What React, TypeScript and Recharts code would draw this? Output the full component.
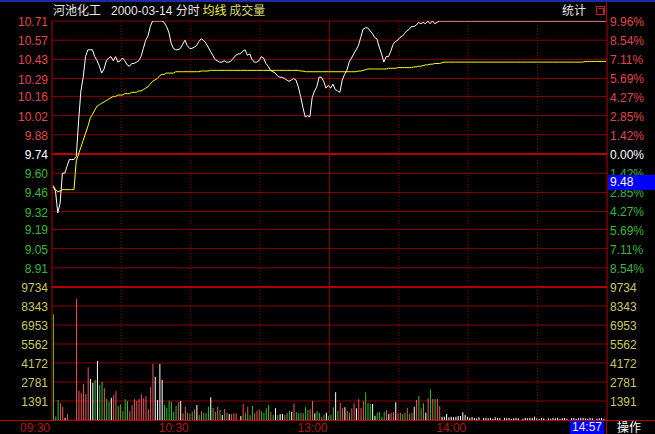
import React from "react";
import {
  ComposedChart,
  Line,
  Bar,
  Cell,
  XAxis,
  YAxis,
  CartesianGrid,
  ReferenceLine,
} from "recharts";

const STOCK_NAME = "河池化工";
const TRADE_DATE = "2000-03-14";
const PREV_CLOSE = 9.74;
const CURSOR_PRICE = "9.48";
const CURSOR_TIME = "14:57";

const PRICE_TICKS = [10.71, 10.57, 10.43, 10.29, 10.16, 10.02, 9.88, 9.74, 9.6, 9.46, 9.32, 9.19, 9.05, 8.91];
const PCT_TICKS = [9.96, 8.54, 7.11, 5.69, 4.27, 2.85, 1.42, 0, -1.42, -2.85, -4.27, -5.69, -7.11, -8.54];
const VOLUME_TICKS = [9734, 8343, 6953, 5562, 4172, 2781, 1391];
const TIME_TICKS = [-0.5, 59.5, 119.5, 179.5];
const TIME_LABELS = ["09:30", "10:30", "13:00", "14:00"];
const HALF_HOURS = [29.5, 59.5, 89.5, 149.5, 179.5, 209.5];
const MIDDAY = 119.5;

// one value per trading minute, 09:30-11:30 then 13:00-15:00
const PRICE = [
  9.5, 9.47, 9.31, 9.38, 9.6, 9.6, 9.65, 9.7, 9.7, 9.7,
  9.72, 9.98, 10.2, 10.3, 10.45, 10.5, 10.5, 10.5, 10.45, 10.42,
  10.38, 10.33, 10.36, 10.42, 10.44, 10.45, 10.42, 10.45, 10.41, 10.42,
  10.44, 10.42, 10.39, 10.38, 10.4, 10.4, 10.41, 10.42, 10.45, 10.51,
  10.57, 10.6, 10.67, 10.71, 10.71, 10.71, 10.71, 10.71, 10.7, 10.67,
  10.63, 10.55, 10.51, 10.5, 10.5, 10.51, 10.54, 10.57, 10.53, 10.51,
  10.51, 10.52, 10.53, 10.56, 10.58, 10.57, 10.55, 10.52, 10.49, 10.46,
  10.43, 10.42, 10.41, 10.41, 10.42, 10.41, 10.41, 10.42, 10.44, 10.46,
  10.47, 10.47, 10.49, 10.5, 10.46, 10.47, 10.43, 10.41, 10.41, 10.42,
  10.45, 10.44, 10.4, 10.38, 10.35, 10.34, 10.33, 10.31, 10.3, 10.3,
  10.29, 10.28, 10.27, 10.28, 10.29, 10.28, 10.23, 10.16, 10.08, 10.01,
  10.02, 10.01, 10.15, 10.2, 10.23, 10.3, 10.3, 10.27, 10.22, 10.24,
  10.22, 10.25, 10.21, 10.2, 10.19, 10.28, 10.32, 10.35, 10.41, 10.44,
  10.47, 10.5, 10.53, 10.59, 10.65, 10.66, 10.66, 10.64, 10.62, 10.59,
  10.58, 10.52, 10.47, 10.41, 10.45, 10.45, 10.49, 10.54, 10.56, 10.57,
  10.59, 10.6, 10.62, 10.64, 10.65, 10.67, 10.67, 10.68, 10.7, 10.69,
  10.7, 10.69, 10.71, 10.69, 10.71, 10.69, 10.7, 10.71, 10.71, 10.71,
  10.71, 10.71, 10.71, 10.71, 10.71, 10.71, 10.71, 10.71, 10.71, 10.71,
  10.71, 10.71, 10.71, 10.71, 10.71, 10.71, 10.71, 10.71, 10.71, 10.71,
  10.71, 10.71, 10.71, 10.71, 10.71, 10.71, 10.71, 10.71, 10.71, 10.71,
  10.71, 10.71, 10.71, 10.71, 10.71, 10.71, 10.71, 10.71, 10.71, 10.71,
  10.71, 10.71, 10.71, 10.71, 10.71, 10.71, 10.71, 10.71, 10.71, 10.71,
  10.71, 10.71, 10.71, 10.71, 10.71, 10.71, 10.71, 10.71, 10.71, 10.71,
  10.71, 10.71, 10.71, 10.71, 10.71, 10.71, 10.71, 10.71, 10.71, 10.71,
];

const AVG_PRICE = [
  9.51, 9.48, 9.465, 9.47, 9.48, 9.48, 9.48, 9.48, 9.48, 9.48,
  9.69, 9.74, 9.79, 9.84, 9.89, 9.94, 10.0, 10.03, 10.06, 10.09,
  10.1, 10.11, 10.12, 10.13, 10.14, 10.15, 10.16, 10.16, 10.17, 10.17,
  10.17, 10.18, 10.18, 10.18, 10.19, 10.19, 10.19, 10.2, 10.2, 10.21,
  10.22, 10.23, 10.25, 10.27, 10.28, 10.29, 10.31, 10.32, 10.32, 10.33,
  10.33, 10.33, 10.33, 10.34, 10.34, 10.34, 10.34, 10.34, 10.34, 10.34,
  10.34, 10.34, 10.34, 10.34, 10.345, 10.345, 10.345, 10.345, 10.35, 10.35,
  10.35, 10.35, 10.35, 10.35, 10.35, 10.35, 10.35, 10.35, 10.35, 10.35,
  10.35, 10.35, 10.35, 10.35, 10.35, 10.35, 10.35, 10.35, 10.35, 10.35,
  10.35, 10.35, 10.35, 10.35, 10.35, 10.35, 10.35, 10.35, 10.35, 10.35,
  10.35, 10.35, 10.35, 10.35, 10.35, 10.35, 10.35, 10.345, 10.345, 10.34,
  10.34, 10.34, 10.34, 10.34, 10.34, 10.34, 10.34, 10.34, 10.34, 10.34,
  10.34, 10.34, 10.34, 10.34, 10.34, 10.34, 10.34, 10.34, 10.34, 10.34,
  10.34, 10.34, 10.345, 10.345, 10.35, 10.355, 10.36, 10.36, 10.36, 10.36,
  10.36, 10.36, 10.36, 10.36, 10.36, 10.365, 10.365, 10.365, 10.365, 10.37,
  10.37, 10.37, 10.37, 10.37, 10.37, 10.37, 10.375, 10.375, 10.38, 10.38,
  10.385, 10.39, 10.39, 10.395, 10.395, 10.4, 10.4, 10.4, 10.405, 10.41,
  10.41, 10.41, 10.41, 10.41, 10.41, 10.41, 10.41, 10.41, 10.41, 10.41,
  10.41, 10.41, 10.41, 10.41, 10.41, 10.41, 10.41, 10.41, 10.41, 10.41,
  10.41, 10.41, 10.41, 10.41, 10.41, 10.41, 10.41, 10.41, 10.41, 10.41,
  10.41, 10.41, 10.41, 10.41, 10.41, 10.41, 10.41, 10.41, 10.41, 10.41,
  10.41, 10.41, 10.41, 10.41, 10.41, 10.41, 10.41, 10.41, 10.41, 10.41,
  10.41, 10.41, 10.41, 10.41, 10.41, 10.41, 10.41, 10.41, 10.41, 10.41,
  10.415, 10.415, 10.415, 10.415, 10.415, 10.415, 10.415, 10.415, 10.415, 10.415,
];

const VOLUME = [
  7737, 244, 1464, 1220, 976, 170, 440, 0, 0, 0,
  8857, 2147, 1952, 2635, 1903, 3855, 3001, 2733, 2928, 4319,
  2562, 2806, 2318, 1537, 1342, 1635, 1830, 2123, 1025, 1147,
  659, 1513, 1391, 659, 1098, 1513, 1415, 1537, 1879, 1586,
  1757, 781, 2391, 4099, 3172, 1464, 4099, 2928, 1098, 903,
  1415, 1342, 610, 1025, 1293, 1391, 488, 976, 537, 439,
  610, 781, 1098, 366, 634, 537, 488, 976, 1659, 903,
  610, 976, 732, 366, 805, 537, 439, 415, 488, 488,
  0, 293, 1171, 537, 976, 342, 1025, 488, 659, 781,
  634, 537, 854, 1098, 610, 366, 854, 366, 439, 439,
  366, 488, 659, 610, 1220, 586, 488, 512, 488, 927,
  732, 781, 1391, 488, 659, 537, 244, 390, 537, 293,
  390, 927, 2025, 683, 1244, 854, 927, 659, 537, 854,
  1220, 854, 1513, 878, 1366, 2025, 1220, 1171, 1171, 317,
  537, 610, 244, 610, 708, 439, 537, 586, 1293, 537,
  537, 439, 537, 903, 439, 537, 976, 1464, 1757, 854,
  1220, 537, 1586, 2245, 1537, 1537, 1537, 1025, 244, 244,
  439, 195, 244, 195, 244, 293, 293, 561, 366, 244,
  170, 195, 146, 122, 195, 0, 146, 170, 122, 146,
  98, 195, 122, 146, 0, 170, 122, 146, 98, 122,
  146, 122, 0, 98, 146, 122, 170, 146, 244, 122,
  98, 146, 122, 0, 122, 98, 146, 122, 170, 98,
  122, 146, 98, 0, 122, 146, 98, 122, 170, 146,
  122, 98, 146, 122, 0, 98, 122, 146, 98, 0,
];

// u = up tick, d = down tick, e = unchanged; ten minutes per group
const VOLUME_SIDE = [
  "ddduueueee", "uuuuuueede", "ddudde" + "uudd", "udduuuuuuu",
  "uuuueeeedd", "ddddueuudu", "dueduddded", "uudeudeuuu",
  "eeududduuu", "ddddudedee", "dudeudddu" + "d", "duuedduded",
  "ddeduueudu", "ueuuudddee", "ddddueuueu", "uddudueudu",
  "deududuuee", "eeeeeeeeee", "eeeeeeeeee", "eeeeeeeeee",
  "eeeeeeeeee", "eeeeeeeeee", "eeeeeeeeee", "eeeeeeeeee",
].join("");

const GRID = "#8c0000";
const GRID_STRONG = "#b40000";
const RED_TEXT = "#e04848";
const GREEN_TEXT = "#38b838";
const VOL_TEXT = "#c8c860";
const SIDE_COLOR: Record<string, string> = { u: "#f05656", d: "#30c030", e: "#ffffff" };

const rows = PRICE.map((p, i) => ({
  m: i,
  price: p,
  avg: AVG_PRICE[i],
  vol: VOLUME[i],
  side: VOLUME_SIDE[i],
}));

function PriceTick({ x, y, payload }: any) {
  const v = payload.value;
  const fill = v > PREV_CLOSE + 0.001 ? RED_TEXT : v < PREV_CLOSE - 0.001 ? GREEN_TEXT : "#ffffff";
  return (
    <text x={x} y={y} dy={5} textAnchor="end" fill={fill} fontSize={12}>
      {v.toFixed(2)}
    </text>
  );
}

function PctTick({ x, y, payload }: any) {
  const v = payload.value;
  const fill = v > 0 ? RED_TEXT : v < 0 ? GREEN_TEXT : "#ffffff";
  return (
    <text x={x} y={y} dy={5} textAnchor="start" fill={fill} fontSize={12}>
      {Math.abs(v).toFixed(2) + "%"}
    </text>
  );
}

function VolTick({ x, y, payload, textAnchor }: any) {
  return (
    <text x={x} y={y} dy={5} textAnchor={textAnchor} fill={VOL_TEXT} fontSize={12}>
      {payload.value}
    </text>
  );
}

function TimeTick({ x, y, payload, index }: any) {
  return (
    <text x={x - 2} y={y} dy={12} textAnchor="end" fill="#b01818" fontSize={12}>
      {TIME_LABELS[index] ?? payload.value}
    </text>
  );
}

function VerticalMarks({ axis }: { axis: string }) {
  return (
    <>
      {HALF_HOURS.map((h) => (
        <ReferenceLine key={h} x={h} yAxisId={axis} stroke={GRID} strokeDasharray="1 2" />
      ))}
      <ReferenceLine x={MIDDAY} yAxisId={axis} stroke={GRID} />
      <ReferenceLine x={-0.5} yAxisId={axis} stroke={GRID_STRONG} />
      <ReferenceLine x={239.5} yAxisId={axis} stroke={GRID_STRONG} />
    </>
  );
}

export default function App() {
  return (
    <div
      style={{
        position: "fixed",
        left: 0,
        top: 0,
        width: 655,
        height: 434,
        background: "#000",
        overflow: "hidden",
        fontFamily: '"Liberation Sans", Arial, "Noto Sans CJK SC", sans-serif',
      }}
    >
      {/* header */}
      <div style={{ position: "absolute", left: 0, top: 0, width: 655, height: 2, background: "#1c2ca8" }} />
      <div style={{ position: "absolute", left: 606, top: 2, width: 1, height: 20, background: GRID_STRONG }} />
      <div
        style={{
          position: "absolute",
          left: 53,
          top: 3,
          fontSize: 12,
          lineHeight: "14px",
          whiteSpace: "pre",
          color: "#e6e6e6",
          fontFamily: '"Noto Sans CJK SC", sans-serif',
        }}
      >
        <span>{STOCK_NAME}</span>
        <span style={{ fontFamily: '"Liberation Sans", Arial, sans-serif' }}>{"   " + TRADE_DATE + " "}</span>
        <span>分时 </span>
        <span style={{ color: "#f0f040" }}>均线 </span>
        <span style={{ color: "#d4d470" }}>成交量</span>
      </div>
      <div
        style={{
          position: "absolute",
          left: 562,
          top: 3,
          fontSize: 12,
          lineHeight: "14px",
          color: "#e6e6e6",
          fontFamily: '"Noto Sans CJK SC", sans-serif',
        }}
      >
        统计
      </div>
      <div style={{ position: "absolute", left: 596, top: 6, width: 7, height: 7, border: "1px solid #c02020" }} />
      <div style={{ position: "absolute", left: 598, top: 8, width: 5, height: 5, borderTop: "1px solid #c02020", borderRight: "1px solid #c02020" }} />

      {/* price panel */}
      <div style={{ position: "absolute", left: 0, top: 0 }}>
        <ComposedChart width={655} height={287} data={rows} margin={{ top: 21, right: 0, bottom: 0, left: 0 }}>
          <XAxis type="number" dataKey="m" domain={[-0.5, 239.5]} hide />
          <YAxis
            yAxisId="p"
            width={52}
            domain={[8.77, 10.71]}
            allowDataOverflow
            ticks={PRICE_TICKS}
            interval={0}
            tick={<PriceTick />}
            tickSize={0}
            tickMargin={4}
            axisLine={false}
            tickLine={false}
          />
          <YAxis
            yAxisId="pct"
            orientation="right"
            width={48}
            domain={[-9.96, 9.96]}
            allowDataOverflow
            ticks={PCT_TICKS}
            interval={0}
            tick={<PctTick />}
            tickSize={0}
            tickMargin={3}
            axisLine={false}
            tickLine={false}
          />
          <CartesianGrid yAxisId="p" vertical={false} stroke={GRID} />
          <ReferenceLine y={PREV_CLOSE} yAxisId="p" stroke={GRID_STRONG} strokeWidth={2} />
          {VerticalMarks({ axis: "p" })}
          <Line
            yAxisId="p"
            dataKey="avg"
            stroke="#ffff00"
            strokeWidth={1}
            dot={false}
            type="linear"
            isAnimationActive={false}
          />
          <Line
            yAxisId="p"
            dataKey="price"
            stroke="#ffffff"
            strokeWidth={1}
            dot={false}
            type="linear"
            isAnimationActive={false}
          />
        </ComposedChart>
      </div>

      {/* volume panel */}
      <div style={{ position: "absolute", left: 0, top: 275 }}>
        <ComposedChart width={655} height={159} data={rows} margin={{ top: 12, right: 0, bottom: 0, left: 0 }}>
          <XAxis
            type="number"
            dataKey="m"
            domain={[-0.5, 239.5]}
            ticks={TIME_TICKS}
            interval={0}
            height={14}
            tick={<TimeTick />}
            tickSize={0}
            tickMargin={0}
            tickLine={false}
            axisLine={false}
          />
          <YAxis
            yAxisId="v"
            width={52}
            domain={[0, 9734]}
            allowDataOverflow
            ticks={VOLUME_TICKS}
            interval={0}
            tick={<VolTick />}
            tickSize={0}
            tickMargin={4}
            axisLine={false}
            tickLine={false}
          />
          <YAxis
            yAxisId="v2"
            orientation="right"
            width={48}
            domain={[0, 9734]}
            allowDataOverflow
            ticks={VOLUME_TICKS}
            interval={0}
            tick={<VolTick />}
            tickSize={0}
            tickMargin={3}
            axisLine={false}
            tickLine={false}
          />
          <CartesianGrid yAxisId="v" vertical={false} stroke={GRID} />
          <ReferenceLine y={9734} yAxisId="v" stroke={GRID_STRONG} strokeWidth={2} />
          {VerticalMarks({ axis: "v" })}
          <Bar yAxisId="v" dataKey="vol" barSize={1} isAnimationActive={false}>
            {rows.map((r) => (
              <Cell key={r.m} fill={SIDE_COLOR[r.side] || "#ffffff"} />
            ))}
          </Bar>
        </ComposedChart>
      </div>

      {/* bottom rule, cursor boxes */}
      <div style={{ position: "absolute", left: 0, top: 420, width: 655, height: 1, background: GRID_STRONG }} />
      <div style={{ position: "absolute", left: 606, top: 420, width: 1, height: 14, background: GRID_STRONG }} />
      <div
        style={{
          position: "absolute",
          left: 608,
          top: 175,
          width: 47,
          height: 15,
          background: "#0000ff",
          color: "#fff",
          fontSize: 12,
          lineHeight: "15px",
          paddingLeft: 2,
        }}
      >
        {CURSOR_PRICE}
      </div>
      <div
        style={{
          position: "absolute",
          left: 570,
          top: 421,
          width: 34,
          height: 13,
          background: "#0000ff",
          color: "#e8e8ff",
          fontSize: 12,
          lineHeight: "13px",
          textAlign: "center",
        }}
      >
        {CURSOR_TIME}
      </div>
      <div
        style={{
          position: "absolute",
          left: 617,
          top: 420,
          color: "#fff",
          fontSize: 12,
          lineHeight: "13px",
          fontFamily: '"Noto Sans CJK SC", sans-serif',
        }}
      >
        操作
      </div>
    </div>
  );
}
